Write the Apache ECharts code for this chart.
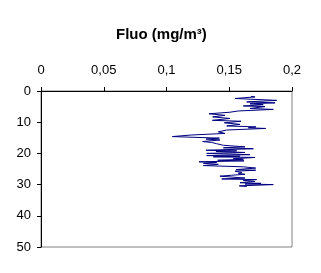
<!DOCTYPE html>
<html>
<head>
<meta charset="utf-8">
<script src="https://cdn.jsdelivr.net/npm/echarts@6/dist/echarts.min.js"></script>
<style>html,body{margin:0;padding:0;background:#fff}#c{width:321px;height:273px}</style>
</head>
<body>
<div id="c"></div>
<script>
const title = 'Fluo (mg/m³)';
const xTicks = [0, 0.05, 0.1, 0.15, 0.2];
const yTicks = [0, 10, 20, 30, 40, 50];
const fluo = [0.1673,0.1705,0.1546,0.1878,0.1639,0.1865,0.1665,0.1771,0.1612,0.1785,
0.1665,0.1851,0.1572,0.1506,0.1339,0.1466,0.1368,0.1506,0.1366,0.1594,
0.1461,0.1586,0.1480,0.1713,0.1652,0.1790,0.1480,0.1413,0.1466,0.1201,
0.1047,0.1187,0.1421,0.1315,0.1426,0.1288,0.1360,0.1400,0.1453,0.1625,
0.1453,0.1692,0.1315,0.1559,0.1394,0.1625,0.1320,0.1665,0.1320,0.1586,
0.1373,0.1705,0.1533,0.1612,0.1408,0.1618,0.1259,0.1400,0.1294,0.1413,
0.1294,0.1612,0.1711,0.1554,0.1711,0.1546,0.1599,0.1572,0.1625,0.1519,
0.1426,0.1625,0.1440,0.1718,0.1612,0.1705,0.1586,0.1753,0.1625,0.1851,
0.1580,0.1639];
const depth = [1.7,1.9,2.4,3.0,3.5,3.8,4.1,4.4,4.8,5.0,
5.6,5.9,6.4,6.8,7.3,7.8,8.3,8.8,9.4,9.7,
10.2,10.7,11.2,11.5,11.8,12.0,12.5,13.1,13.6,14.1,
14.6,14.8,15.1,15.4,15.7,16.2,16.5,16.9,17.4,17.9,
18.2,18.5,19.0,19.2,19.4,19.7,20.0,20.4,20.7,20.9,
21.1,21.3,21.7,21.9,22.2,22.4,22.7,22.9,23.2,23.5,
23.9,24.3,24.7,25.2,25.4,25.7,26.1,26.4,26.7,27.0,
27.3,27.9,28.2,28.4,28.7,29.0,29.4,29.6,29.8,30.0,
30.4,30.6];

const chart = echarts.init(document.getElementById('c'), null, {renderer:'canvas'});
const font = {fontFamily:'Liberation Sans, Arial, sans-serif', fontSize:13, color:'#000'};
chart.setOption({
  animation:false,
  backgroundColor:'#fff',
  title:{text:title, left:111, top:22, textStyle:{fontFamily:'Liberation Sans, Arial, sans-serif', fontSize:15, fontWeight:'bold', color:'#000'}},
  grid:{left:41, right:29, top:91, bottom:26, show:true, borderColor:'#808080', borderWidth:1, backgroundColor:'transparent'},
  xAxis:{type:'value', position:'top', min:xTicks[0], max:xTicks[xTicks.length-1], interval:0.05,
    axisLine:{show:true, onZero:false, lineStyle:{color:'#000', width:1}},
    axisTick:{show:true, inside:false, length:4, lineStyle:{color:'#000'}},
    splitLine:{show:false},
    axisLabel:Object.assign({margin:14, formatter:v=>String(+v.toFixed(2)).replace('.', ',')}, font)},
  yAxis:{type:'value', inverse:true, min:yTicks[0], max:yTicks[yTicks.length-1], interval:10,
    axisLine:{show:true, onZero:false, lineStyle:{color:'#000', width:1}},
    axisTick:{show:true, inside:false, length:4, lineStyle:{color:'#000'}},
    splitLine:{show:false},
    axisLabel:Object.assign({margin:10}, font)},
  series:[{type:'line', data:fluo.map((v,i)=>[v, depth[i]]), showSymbol:false, symbol:'none',
    lineStyle:{color:'#000080', width:1}, itemStyle:{color:'#000080'}}]
});
</script>
</body>
</html>
